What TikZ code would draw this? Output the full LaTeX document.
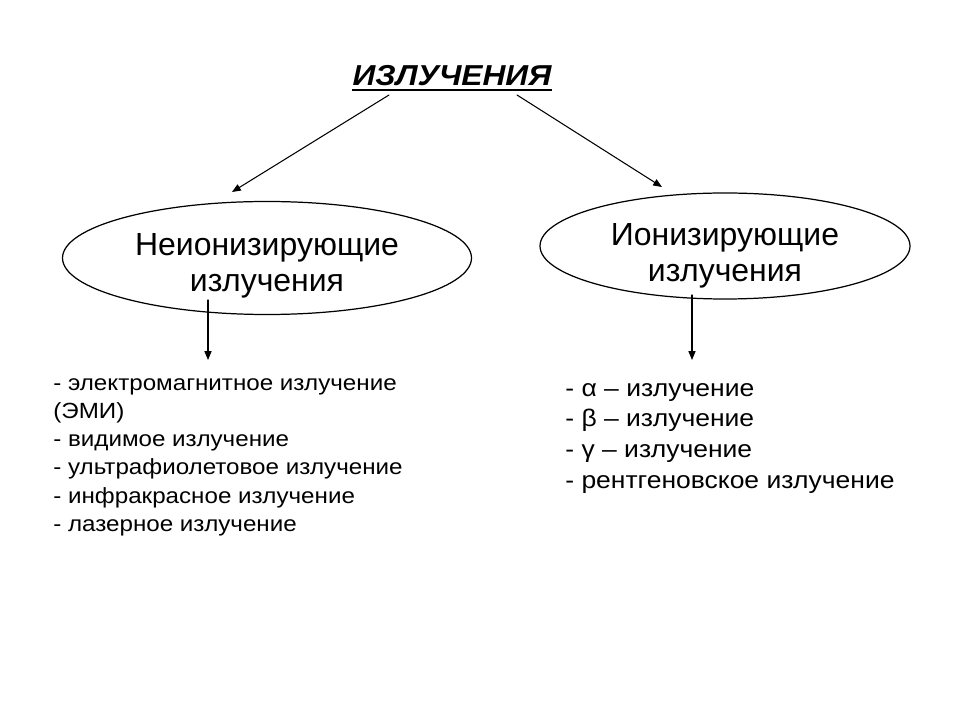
\documentclass[tikz,border=0pt]{standalone}
\usepackage{fontspec}
\setmainfont{Liberation Sans}
\newfontfamily\widesans[FakeStretch=1.1]{Liberation Sans}
\usepackage{tikz}
\usetikzlibrary{arrows.meta,shapes.geometric}
\tikzset{
  every picture/.style={line join=round, line cap=round, >={Triangle[length=5pt,width=4pt]}},
  arr/.style={->, line width=0.6pt},
  oval/.style={ellipse, draw, line width=0.7pt, inner sep=0pt},
  ovaltext/.style={inner sep=0pt, align=center, font=\fontsize{18.2}{21}\selectfont},
  titletext/.style={inner sep=0pt, font=\widesans\fontsize{16.4}{19}\selectfont\bfseries\itshape},
  leftlist/.style={align=left, inner sep=0pt, font=\widesans\fontsize{12.5}{16.1}\selectfont},
  rightlist/.style={align=left, inner sep=0pt, font=\widesans\fontsize{13.7}{17.4}\selectfont},
}

\begin{document}
\begin{tikzpicture}
\useasboundingbox[fill=white] (0,0) rectangle (19.2,14.4);
\node[titletext,anchor=base] (title) at (9.040,12.680) {ИЗЛУЧЕНИЯ};
\draw[line width=1.1pt,line cap=butt] ([yshift=-2.5pt]title.base west) -- ([yshift=-2.5pt]title.base east);
\node[oval,minimum width=8.18cm,minimum height=2.26cm] (nonion) at (5.340,9.240) {};
\node[oval,minimum width=7.40cm,minimum height=2.12cm] (ion) at (14.500,9.480) {};
\node[ovaltext,anchor=base] (nonionlbl) at (5.340,8.560) {Неионизирующие\\излучения};
\node[ovaltext,anchor=base] (ionlbl) at (14.500,8.760) {Ионизирующие\\излучения};
% arrows from the title
\coordinate (tl) at (7.780,12.500);
\coordinate (tr) at (10.340,12.500);
\coordinate (el) at (4.640,10.560);
\coordinate (er) at (13.240,10.660);
\draw[arr] (tl) -- (el);
\draw[arr] (tr) -- (er);
% arrows down to the lists
\coordinate (nl) at (4.160,8.400);
\coordinate (nr) at (13.840,8.500);
\coordinate (ll) at (4.160,7.200);
\coordinate (lr) at (13.840,7.200);
\draw[arr] (nl) -- (ll);
\draw[arr] (nr) -- (lr);
\node[leftlist,anchor=base west] (nonlist) at (1.060,3.770) {- электромагнитное излучение\\(ЭМИ)\\- видимое излучение\\- ультрафиолетовое излучение\\- инфракрасное излучение\\- лазерное излучение};
\node[rightlist,anchor=base west] (ionlist) at (11.300,4.640) {- α – излучение\\- β – излучение\\- γ – излучение\\- рентгеновское излучение};
\end{tikzpicture}
\end{document}
